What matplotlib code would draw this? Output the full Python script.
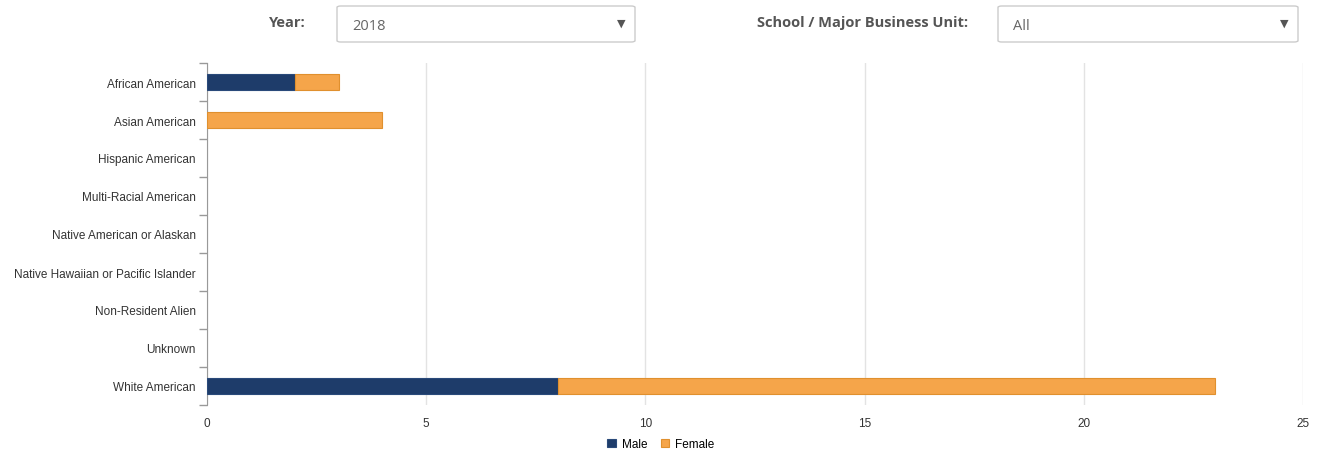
import numpy as np
import matplotlib
matplotlib.use('Agg')
import matplotlib.pyplot as plt
from matplotlib.patches import FancyBboxPatch

# data
categories = ['African American', 'Asian American', 'Hispanic American', 'Multi-Racial American',
              'Native American or Alaskan', 'Native Hawaiian or Pacific Islander',
              'Non-Resident Alien', 'Unknown', 'White American']
male = [2, 0, 0, 0, 0, 0, 0, 0, 8]
female = [1, 4, 0, 0, 0, 0, 0, 0, 15]
year = '2018'
unit = 'All'

W, H = 1324, 456
fig = plt.figure(figsize=(W / 100, H / 100), dpi=100)
plt.rcParams['font.family'] = ['Liberation Sans', 'DejaVu Sans']

navy = '#1e3c6a'
orange = '#f5a54a'

# plot area in pixels
ax = fig.add_axes([207 / W, 1 - 406 / H, (1303 - 207) / W, (406 - 64) / H])
y = np.arange(len(categories))
# no outline on empty bars, otherwise a stub shows on the axis
male_edges = ['#2a4a7a' if v > 0 else 'none' for v in male]
female_edges = ['#e0902e' if v > 0 else 'none' for v in female]
ax.barh(y, male, height=0.42, color=navy, edgecolor=male_edges, linewidth=0.8, label='Male', zorder=3)
ax.barh(y, female, left=male, height=0.42, color=orange, edgecolor=female_edges, linewidth=0.8,
        label='Female', zorder=3)

ax.set_xlim(0, 25)
ax.set_ylim(len(categories) - 0.5, -0.5)
ax.set_xticks([0, 5, 10, 15, 20, 25])
ax.tick_params(axis='x', length=0, labelsize=8.5, colors='#333333', pad=9)
ax.grid(axis='x', color='#e3e3e3', linewidth=1, zorder=0)

ax.set_yticks(y)
ax.set_yticklabels(categories)
ax.set_yticks(np.arange(-0.5, len(categories)), minor=True)
ax.tick_params(axis='y', which='major', length=0, labelsize=8.5, colors='#333333', pad=8)
ax.tick_params(axis='y', which='minor', length=6, color='#999999', width=1)

for s in ['top', 'right', 'bottom']:
    ax.spines[s].set_visible(False)
ax.spines['left'].set_color('#999999')

# legend
fig.legend(loc='center', bbox_to_anchor=(661 / W, 1 - 445 / H), ncol=2, frameon=False,
           fontsize=8.5, handlelength=0.7, handleheight=0.7, handletextpad=0.5, columnspacing=1.2)

# dropdown controls at the top
def dropdown(x0, x1, text):
    box = FancyBboxPatch((x0 / W, 1 - 43 / H), (x1 - x0) / W, 36 / H,
                         boxstyle='round,pad=0,rounding_size=0.003', transform=fig.transFigure,
                         facecolor='white', edgecolor='#cccccc', linewidth=1)
    fig.add_artist(box)
    fig.text((x0 + 15) / W, 1 - 26 / H, text, fontsize=10.5, color='#666666', va='center',
             family=['Open Sans', 'DejaVu Sans'])
    fig.text((x1 - 14) / W, 1 - 24 / H, '\u25bc', fontsize=8, color='#555555', va='center', ha='center',
             family='DejaVu Sans')

fig.text(306 / W, 1 - 23 / H, 'Year:', fontsize=10.5, fontweight='bold', color='#555555',
         ha='right', va='center', family=['Open Sans', 'DejaVu Sans'])
dropdown(337, 635, year)
fig.text(968 / W, 1 - 23 / H, 'School / Major Business Unit:', fontsize=10.5, fontweight='bold',
         color='#555555', ha='right', va='center', family=['Open Sans', 'DejaVu Sans'])
dropdown(998, 1298, unit)

fig.savefig('out.png', dpi=100)
